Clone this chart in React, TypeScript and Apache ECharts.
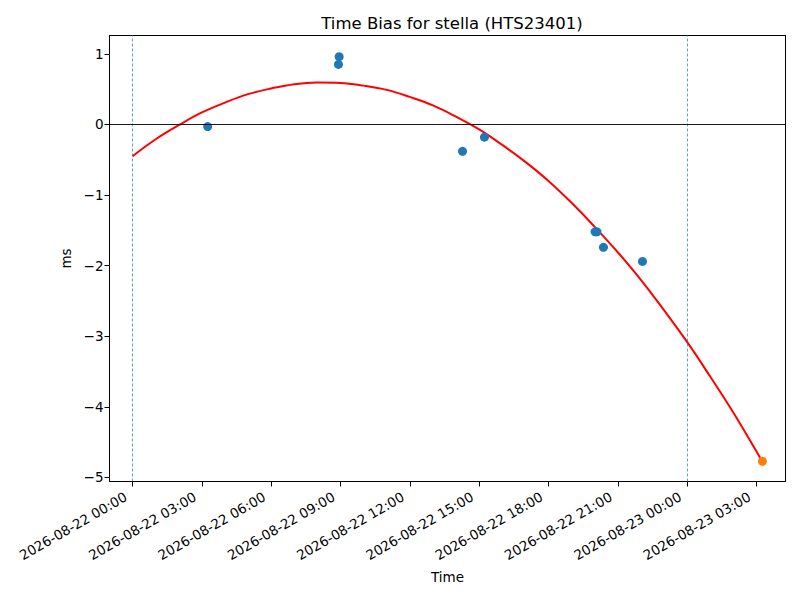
import React, { useEffect, useRef } from "react";
import * as echarts from "echarts";

const titleText = "Time Bias for stella (HTS23401)";
const tickHours = [0, 3, 6, 9, 12, 15, 18, 21, 24, 27];
const tickLabels = [
  "2026-08-22 00:00",
  "2026-08-22 03:00",
  "2026-08-22 06:00",
  "2026-08-22 09:00",
  "2026-08-22 12:00",
  "2026-08-22 15:00",
  "2026-08-22 18:00",
  "2026-08-22 21:00",
  "2026-08-23 00:00",
  "2026-08-23 03:00",
];
const yTicks = [-5, -4, -3, -2, -1, 0, 1];
const obsHours = [3.25, 8.91, 8.94, 14.28, 15.23, 20.02, 20.1, 20.38, 22.07];
const obsMs = [-0.03, 0.85, 0.96, -0.38, -0.18, -1.52, -1.52, -1.74, -1.94];
const latestHours = [27.26];
const latestMs = [-4.77];
const fitHours = [0, 1, 2, 3, 4, 5, 6, 7, 8, 9, 10, 11, 12, 13, 14, 15, 16, 17, 18, 19, 20, 21, 22, 23, 24, 25, 26, 27, 27.26];
const fitMs = [-0.45, -0.21, -0.01, 0.17, 0.31, 0.43, 0.51, 0.57, 0.593, 0.588, 0.55, 0.49, 0.39, 0.27, 0.11, -0.07, -0.29, -0.53, -0.8, -1.11, -1.45, -1.81, -2.2, -2.63, -3.08, -3.57, -4.08, -4.63, -4.78];
const dayBoundaries = [0, 24];
const zeroLevel = 0;

const FONT = "DejaVu Sans";
const X_MIN = -1.0;
const X_MAX = 28.26;
const Y_MIN = -5.057;
const Y_MAX = 1.26;

function fmtY(v: number): string {
  const r = Math.round(v);
  return r < 0 ? "\u2212" + Math.abs(r) : String(r);
}

export default function App() {
  const ref = useRef<HTMLDivElement>(null);
  useEffect(() => {
    document.body.style.margin = "0";
    if (!ref.current) return;
    const chart = echarts.init(ref.current, null, { renderer: "svg" });
    const axisLine = { show: true, lineStyle: { color: "#000", width: 1 } };
    chart.setOption({
      animation: false,
      backgroundColor: "#fff",
      textStyle: { fontFamily: FONT },
      title: {
        text: titleText,
        left: 447,
        top: 10,
        textAlign: "center",
        textStyle: { fontFamily: FONT, fontSize: 16.5, fontWeight: "normal", color: "#000" },
      },
      grid: { left: 109.5, right: 14.5, top: 35.5, bottom: 118.5, containLabel: false },
      xAxis: [
        {
          type: "value",
          min: X_MIN,
          max: X_MAX,
          name: "Time",
          nameLocation: "middle",
          nameGap: 88,
          nameTextStyle: { fontFamily: FONT, fontSize: 13.5, color: "#000" },
          axisLine: { ...axisLine, onZero: false },
          axisTick: { show: true, length: 5, customValues: tickHours, lineStyle: { color: "#000" } },
          axisLabel: {
            customValues: tickHours,
            rotate: 30,
            margin: 10,
            padding: [0, 8, 0, 0],
            fontFamily: FONT,
            fontSize: 13.5,
            color: "#000",
            formatter: (v: number) => {
              const i = tickHours.indexOf(Math.round(v));
              return i >= 0 ? tickLabels[i] : "";
            },
          },
          splitLine: { show: false },
        },
        {
          type: "value",
          position: "top",
          min: X_MIN,
          max: X_MAX,
          axisLine: { ...axisLine, onZero: false },
          axisTick: { show: false },
          axisLabel: { show: false },
          splitLine: { show: false },
        },
      ],
      yAxis: [
        {
          type: "value",
          min: Y_MIN,
          max: Y_MAX,
          name: "ms",
          nameLocation: "middle",
          nameGap: 35,
          nameTextStyle: { fontFamily: FONT, fontSize: 13.5, color: "#000" },
          axisLine: { ...axisLine, onZero: false },
          axisTick: { show: true, length: 5, customValues: yTicks, lineStyle: { color: "#000" } },
          axisLabel: {
            customValues: yTicks,
            margin: 6,
            fontFamily: FONT,
            fontSize: 13.5,
            color: "#000",
            formatter: (v: number) => fmtY(v),
          },
          splitLine: { show: false },
        },
        {
          type: "value",
          position: "right",
          min: Y_MIN,
          max: Y_MAX,
          axisLine: { ...axisLine, onZero: false },
          axisTick: { show: false },
          axisLabel: { show: false },
          splitLine: { show: false },
        },
      ],
      series: [
        {
          type: "line",
          name: "guides",
          data: [],
          z: 1,
          markLine: {
            silent: true,
            symbol: "none",
            label: { show: false },
            data: [
              ...dayBoundaries.map((h) => ({
                xAxis: h,
                lineStyle: { color: "#1f77b4", type: [3, 2], width: 0.7 },
              })),
              { yAxis: zeroLevel, lineStyle: { color: "#000", type: "solid", width: 0.9 } },
            ],
          },
        },
        {
          type: "line",
          name: "fit",
          data: fitHours.map((h, i) => [h, fitMs[i]]),
          showSymbol: false,
          symbol: "none",
          smooth: 0.4,
          smoothConstraint: false,
          lineStyle: { color: "#ff0000", width: 2 },
          z: 2,
        },
        {
          type: "scatter",
          name: "obs",
          data: obsHours.map((h, i) => [h, obsMs[i]]),
          symbolSize: 9,
          itemStyle: { color: "#1f77b4", opacity: 1 },
          z: 3,
        },
        {
          type: "scatter",
          name: "latest",
          data: latestHours.map((h, i) => [h, latestMs[i]]),
          symbolSize: 9,
          itemStyle: { color: "#ff7f0e", opacity: 1 },
          z: 3,
        },
      ],
    });
    return () => chart.dispose();
  }, []);
  return <div ref={ref} style={{ width: 800, height: 600 }} />;
}
